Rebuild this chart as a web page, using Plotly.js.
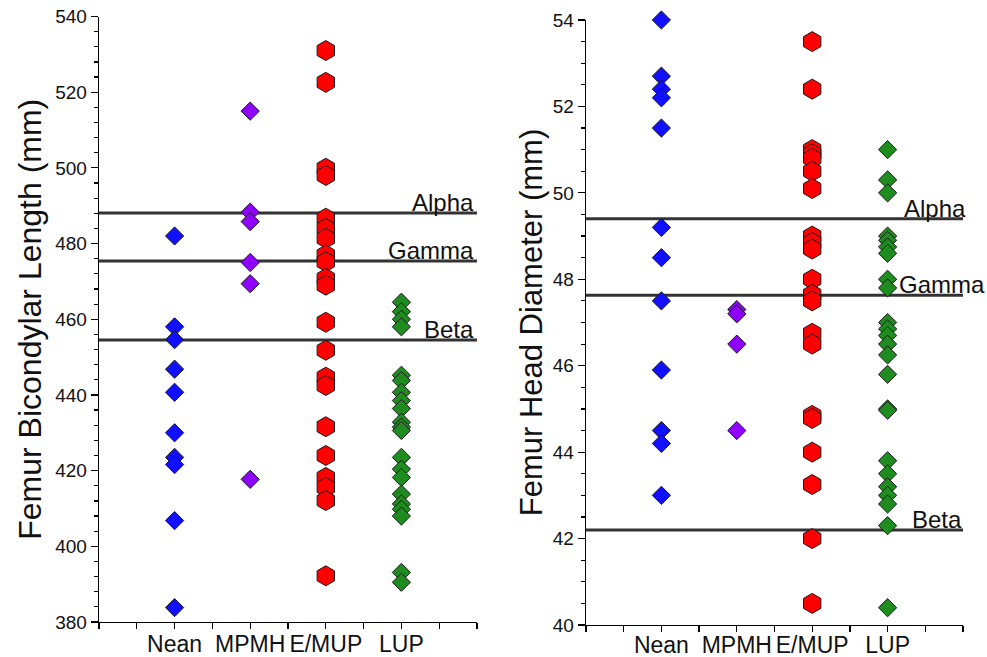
<!DOCTYPE html>
<html>
<head>
<meta charset="utf-8">
<script src="https://cdn.plot.ly/plotly-3.0.1.min.js"></script>
<style>html,body{margin:0;padding:0;background:#fff;}#chart{width:987px;height:657px;}</style>
</head>
<body>
<div id="chart"></div>
<script>
// ---- data ----
const categories = ['Nean', 'MPMH', 'E/MUP', 'LUP'];

// Femur Bicondylar Length (mm)
const lenNean = [482, 458, 454.6, 446.8, 440.7, 430, 423.5, 421.6, 406.8, 383.8];
const lenMPMH = [515, 488.3, 485.8, 475, 469.4, 417.7];
const lenEMUP = [531, 522.6, 499.9, 498, 486.7, 484, 481.4, 477, 475.2, 470.8, 469, 459.2, 451.8, 444.7, 442.5, 431.6, 424, 418.2, 415.6, 412.1, 392.2];
const lenLUP = [464.5, 462, 460, 458, 445.2, 443.8, 440.7, 438.5, 436.4, 432.8, 431.5, 430.6, 423.5, 420.4, 418.2, 413.8, 411.2, 409.8, 408, 393.1, 390.5];

// Femur Head Diameter (mm)
const headNean = [54.0, 52.7, 52.4, 52.2, 51.5, 49.2, 48.5, 47.5, 45.9, 44.5, 44.2, 43.0];
const headMPMH = [47.3, 47.2, 46.5, 44.5];
const headEMUP = [53.5, 52.4, 51.0, 50.9, 50.8, 50.5, 50.1, 49.0, 48.85, 48.7, 48.0, 47.65, 47.5, 46.75, 46.5, 44.85, 44.78, 44.0, 43.25, 42.0, 40.5];
const headLUP = [51.0, 50.3, 50.0, 49.0, 48.9, 48.75, 48.6, 48.0, 47.8, 47.0, 46.85, 46.7, 46.5, 46.25, 45.8, 45.0, 44.97, 43.8, 43.5, 43.2, 43.0, 42.8, 42.3, 40.4];

// reference lines
const refNames = ['Alpha', 'Gamma', 'Beta'];
const lenRefValues = [488.1, 475.4, 454.5];
const headRefValues = [49.4, 47.63, 42.2];

// tick values
const lenTicks = [380, 400, 420, 440, 460, 480, 500, 520, 540];
const headTicks = [40, 42, 44, 46, 48, 50, 52, 54];

// ---- styles ----
const FONT = 'Liberation Sans, Arial, sans-serif';
const styles = {
  'Nean':  {color: '#1010ff', symbol: 'diamond', size: 14},
  'MPMH':  {color: '#8f00ff', symbol: 'diamond', size: 14},
  'E/MUP': {color: '#ff0000', symbol: 'hexagon', size: 20},
  'LUP':   {color: '#1f8c1f', symbol: 'diamond', size: 14}
};

const traces = [];
function addGroup(cat, vals, xa, ya) {
  const pos = categories.indexOf(cat) + 1;
  const st = styles[cat];
  traces.push({
    type: 'scatter', mode: 'markers',
    x: vals.map(() => pos), y: vals,
    xaxis: xa, yaxis: ya, name: cat, showlegend: false,
    cliponaxis: false, hoverinfo: 'y',
    marker: {symbol: st.symbol, size: st.size, color: st.color,
             line: {color: '#1a1a1a', width: 1}}
  });
}
function addRefLines(values, xa, ya) {
  values.forEach((v, i) => {
    traces.push({
      type: 'scatter', mode: 'lines', x: [0, 5], y: [v, v],
      xaxis: xa, yaxis: ya, name: refNames[i], showlegend: false,
      line: {color: '#333333', width: 3}, hoverinfo: 'name'
    });
  });
}
addRefLines(lenRefValues, 'x', 'y');
addRefLines(headRefValues, 'x2', 'y2');
addGroup('Nean', lenNean, 'x', 'y');
addGroup('MPMH', lenMPMH, 'x', 'y');
addGroup('E/MUP', lenEMUP, 'x', 'y');
addGroup('LUP', lenLUP, 'x', 'y');
addGroup('Nean', headNean, 'x2', 'y2');
addGroup('MPMH', headMPMH, 'x2', 'y2');
addGroup('E/MUP', headEMUP, 'x2', 'y2');
addGroup('LUP', headLUP, 'x2', 'y2');

const xTickVals = [0, 1, 2, 3, 4, 5];
const xTickText = [''].concat(categories, ['']);

function xAxis(domain, anchor, standoff) {
  return {
    domain: domain, anchor: anchor, range: [0, 5], showgrid: false, zeroline: false,
    showline: true, linecolor: '#000', linewidth: 1.3,
    tickmode: 'array', tickvals: xTickVals, ticktext: xTickText, tickangle: 0,
    ticks: 'outside', ticklen: 6, tickwidth: 1.2, tickcolor: '#000',
    ticklabelstandoff: standoff,
    tickfont: {family: FONT, size: 23, color: '#111'},
    minor: {dtick: 0.5, ticks: 'outside', ticklen: 6, tickwidth: 1.2, tickcolor: '#000', showgrid: false}
  };
}
function yAxis(domain, anchor, range, ticks, minorDt, title, tsize, standoff) {
  return {
    domain: domain, anchor: anchor, range: range, showgrid: false, zeroline: false,
    showline: true, linecolor: '#000', linewidth: 1.3,
    tickmode: 'array', tickvals: ticks,
    ticks: 'outside', ticklen: 7, tickwidth: 1.2, tickcolor: '#000',
    tickfont: {family: FONT, size: 19, color: '#111'},
    minor: {dtick: minorDt, ticks: 'outside', ticklen: 4, tickwidth: 1.2, tickcolor: '#000', showgrid: false},
    title: {text: title, font: {family: FONT, size: tsize, color: '#111'}, standoff: standoff}
  };
}

const W = 987, H = 657;
const layout = {
  width: W, height: H,
  margin: {l: 0, r: 0, t: 0, b: 0},
  paper_bgcolor: '#fff', plot_bgcolor: '#fff',
  showlegend: false,
  xaxis: xAxis([99 / W, 477 / W], 'y', -5),
  yaxis: yAxis([1 - 622 / H, 1 - 16.5 / H], 'x', [380, 540], lenTicks, 4, 'Femur Bicondylar Length (mm)', 32, 4),
  xaxis2: xAxis([586 / W, 963 / W], 'y2', -7),
  yaxis2: yAxis([1 - 625 / H, 1 - 20 / H], 'x2', [40, 54], headTicks, 0.5, 'Femur Head Diameter (mm)', 31, 1),
  annotations: []
};

const annFont = {family: FONT, size: 24, color: '#111'};
// left panel labels (right-aligned at line end)
refNames.forEach((n, i) => {
  layout.annotations.push({
    xref: 'x', yref: 'y', x: 5, y: lenRefValues[i], text: n, showarrow: false,
    xanchor: 'right', yanchor: 'bottom', font: annFont, borderpad: 0, xshift: -2, yshift: -4
  });
});
// right panel labels
const headLabelX = [5, 4.15, 5];
const headLabelAnchor = ['right', 'left', 'right'];
const headLabelShift = [4, -1, 0];
refNames.forEach((n, i) => {
  layout.annotations.push({
    xref: 'x2', yref: 'y2', x: headLabelX[i], y: headRefValues[i], text: n, showarrow: false,
    xanchor: headLabelAnchor[i], yanchor: 'bottom', font: annFont, borderpad: 0,
    xshift: headLabelShift[i], yshift: -4
  });
});

Plotly.newPlot('chart', traces, layout, {displayModeBar: false, staticPlot: true});
</script>
</body>
</html>
